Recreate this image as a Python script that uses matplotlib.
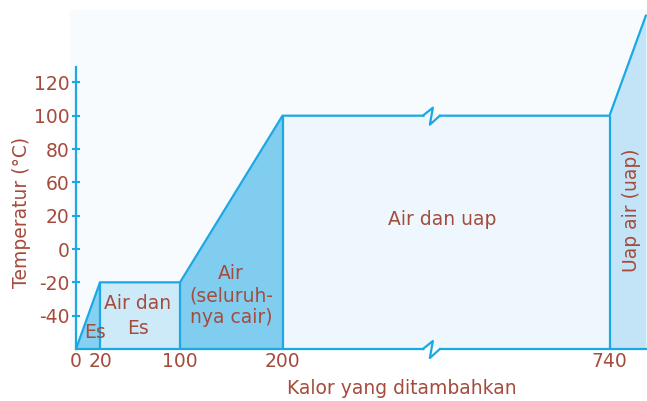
import numpy as np
import matplotlib
matplotlib.use("Agg")
import matplotlib.pyplot as plt
import matplotlib.transforms as mtransforms
from matplotlib.patches import Rectangle

# heating curve of water: heat added vs temperature
kalor = [0, 20, 100, 200, 740, 800]
suhu = [-60, -20, -20, 100, 100, 160]
fase = ["Es", "Air dan\nEs", "Air\n(seluruh-\nnya cair)", "Air dan uap", "Uap air (uap)"]

xtick_vals = [0, 20, 100, 200, 740]
xtick_labels = ["0", "20", "100", "200", "740"]
ytick_vals = [-40, -20, 0, 20, 60, 80, 100, 120]
ytick_labels = ["-40", "-20", "0", "20", "60", "80", "100", "120"]

LINE = "#1ba8e4"
TEXT = "#a54b3c"
FILLS = ["#86d0f1", "#cdeaf9", "#80cdf0", "#eef7fd", "#c3e4f7"]
FS = 13.5

W, H, DPI = 647, 401, 100


def piecewise(knots, pos):
    knots = np.asarray(knots, float)
    pos = np.asarray(pos, float)
    lo = (pos[1] - pos[0]) / (knots[1] - knots[0])
    hi = (pos[-1] - pos[-2]) / (knots[-1] - knots[-2])

    def fwd(v):
        v = np.asarray(v, float)
        out = np.interp(v, knots, pos)
        out = np.where(v < knots[0], pos[0] + (v - knots[0]) * lo, out)
        return np.where(v > knots[-1], pos[-1] + (v - knots[-1]) * hi, out)

    def inv(p):
        p = np.asarray(p, float)
        out = np.interp(p, pos, knots)
        out = np.where(p < pos[0], knots[0] + (p - pos[0]) / lo, out)
        return np.where(p > pos[-1], knots[-1] + (p - pos[-1]) / hi, out)

    return fwd, inv


# broken x axis (pixel columns) and uneven y labels (pixel rows from bottom)
xf, xi = piecewise(xtick_vals, [76, 100, 180, 282.5, 609.5])
yf, yi = piecewise([-60] + ytick_vals, [H - 349 + 33.33 * i for i in range(9)])

fig = plt.figure(figsize=(W / DPI, H / DPI), dpi=DPI)
fig.patches.append(Rectangle((70 / W, 52 / H), (W - 70) / W, (H - 62) / H,
                             transform=fig.transFigure, color="#f7fbfe", zorder=-5))
ax = fig.add_axes([76 / W, 52 / H, (W - 76) / W, 349 / H])
ax.patch.set_alpha(0)
ax.set_xscale("function", functions=(xf, xi))
ax.set_yscale("function", functions=(yf, yi))
ax.set_xlim(0, float(xi(W)))
ax.set_ylim(-60, float(yi(H)))

for i in range(len(fase)):
    ax.fill_between(kalor[i:i + 2], suhu[0], suhu[i:i + 2], color=FILLS[i], lw=0, zorder=1)
ax.vlines(kalor[1:5], suhu[0], suhu[1:5], color=LINE, lw=1.6, zorder=3)
ax.plot(kalor, suhu, color=LINE, lw=1.6, zorder=3, solid_joinstyle="miter")

for s in ["top", "right"]:
    ax.spines[s].set_visible(False)
for s in ["left", "bottom"]:
    ax.spines[s].set_color(LINE)
    ax.spines[s].set_linewidth(1.6)
    ax.spines[s].set_zorder(3)
ax.spines["left"].set_bounds(-60, 129)

ax.set_xticks(xtick_vals, xtick_labels)
ax.set_yticks(ytick_vals, ytick_labels)
ax.tick_params(axis="x", length=0, pad=2.5, labelsize=FS, labelcolor=TEXT)
ax.tick_params(axis="y", direction="inout", length=6, width=1.5, color=LINE,
               pad=1.5, labelsize=FS, labelcolor=TEXT)

# break marks on the plateau and on the x axis
break_x = 445
zig = np.array([[-8, 0], [2, 8], [-1, -9], [9, 0]]) * 0.72
for yb, cover in [(100, "#f2f9fd"), (-60, "white")]:
    tr = (mtransforms.Affine2D().scale(1 / 72) + fig.dpi_scale_trans
          + mtransforms.ScaledTranslation(break_x, yb, ax.transData))
    ax.plot([-7 * 0.72, 8 * 0.72], [0, 0], color=cover, lw=3.5, transform=tr,
            zorder=4, clip_on=False, solid_capstyle="butt")
    ax.plot(zig[:, 0], zig[:, 1], color=LINE, lw=1.6, transform=tr, zorder=5,
            clip_on=False)

txt = dict(color=TEXT, fontsize=FS, ha="center", va="center", zorder=6)
ax.text(16, -50, fase[0], **txt)
ax.text(58, -40, fase[1], linespacing=1.4, **txt)
ax.text(150, -28, fase[2], linespacing=1.2, **txt)
ax.text(463, 18, fase[3], **txt)
ax.text(776, 27, fase[4], rotation=90, **txt)

fig.text(22 / W, 1 - 212 / H, "Temperatur (°C)", rotation=90, ha="center", va="center",
         color=TEXT, fontsize=FS)
fig.text(402 / W, 1 - 389 / H, "Kalor yang ditambahkan", ha="center", va="center",
         color=TEXT, fontsize=FS)

fig.savefig("out.png", dpi=DPI)
